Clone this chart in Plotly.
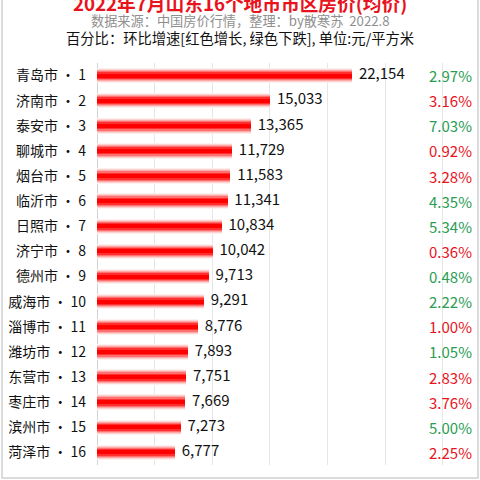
import plotly.graph_objects as go

cities = ['青岛市', '济南市', '泰安市', '聊城市', '烟台市', '临沂市', '日照市', '济宁市',
          '德州市', '威海市', '淄博市', '潍坊市', '东营市', '枣庄市', '滨州市', '菏泽市']
prices = [22154, 15033, 13365, 11729, 11583, 11341, 10834, 10042,
          9713, 9291, 8776, 7893, 7751, 7669, 7273, 6777]
mom_pct = [2.97, 3.16, 7.03, 0.92, 3.28, 4.35, 5.34, 0.36,
           0.48, 2.22, 1.00, 1.05, 2.83, 3.76, 5.00, 2.25]
pct_color = ['g', 'r', 'g', 'r', 'r', 'g', 'g', 'r',
             'g', 'g', 'r', 'g', 'r', 'r', 'g', 'r']

labels = [f'{c} · {i + 1}' for i, c in enumerate(cities)]

RED = '#e8131d'
GREEN = '#2a9d52'
FONT = 'Noto Sans CJK SC'

W, H = 480, 480
# plot area in pixels (left, right, top, bottom)
PL, PR, PT, PB = 97, 478, 63, 465


def px_x(p):
    return p / W


def px_y(p):
    return 1 - p / H


fig = go.Figure()

# glossy bars: stacked layers, wide & pale to narrow & deep red
layers = [(0.62, '#fff0f0'), (0.54, '#ffd2d2'), (0.46, '#ffa8a8'),
          (0.38, '#ff7070'), (0.28, '#ff3030'), (0.16, '#ff0000')]
for w, col in layers:
    fig.add_trace(go.Bar(x=prices, y=labels, orientation='h', width=w,
                         marker=dict(color=col, line=dict(width=0)),
                         hoverinfo='skip', showlegend=False))

fig.add_trace(go.Scatter(x=prices, y=labels, mode='text',
                         text=['  ' + f'{p:,}' for p in prices],
                         textposition='middle right',
                         textfont=dict(size=15, color='#111111', family=FONT),
                         showlegend=False, cliponaxis=False))

for lab, p, c in zip(labels, mom_pct, pct_color):
    fig.add_annotation(x=px_x(474), y=lab, xref='paper', yref='y',
                       text=f'{p:.2f}%', showarrow=False, xanchor='right', yanchor='middle',
                       font=dict(size=15, color=GREEN if c == 'g' else RED, family=FONT))

fig.add_annotation(x=0.5, y=px_y(3), xref='paper', yref='paper',
                   xanchor='center', yanchor='middle', showarrow=False,
                   text='<b>2022年7月山东16个地市市区房价(均价)</b>',
                   font=dict(size=18.7, color=RED, family=FONT))
fig.add_annotation(x=0.5, y=px_y(21), xref='paper', yref='paper',
                   xanchor='center', yanchor='middle', showarrow=False,
                   text='数据来源：中国房价行情，整理：by散寒苏  2022.8',
                   font=dict(size=13.2, color='#8f8f8f', family=FONT))
fig.add_annotation(x=0.5, y=px_y(38), xref='paper', yref='paper',
                   xanchor='center', yanchor='middle', showarrow=False,
                   text='百分比：环比增速[红色增长, 绿色下跌], 单位:元/平方米',
                   font=dict(size=14.3, color='#111111', family=FONT))

# outer frame
fig.add_shape(type='rect', xref='paper', yref='paper',
              x0=px_x(2), x1=px_x(478), y0=px_y(478), y1=px_y(-10),
              line=dict(color='#cfcfcf', width=1.5))

fig.update_layout(
    width=W, height=H, margin=dict(l=0, r=0, t=0, b=0, autoexpand=False),
    paper_bgcolor='white', plot_bgcolor='white',
    barmode='overlay', bargap=0,
    font=dict(family=FONT),
    xaxis=dict(domain=[px_x(PL), px_x(PR)],
               range=[0, (PR - PL) / 0.01152], dtick=5000, showticklabels=False,
               showgrid=True, gridcolor='#e6e6e6', gridwidth=1,
               zeroline=True, zerolinecolor='#d0d0d0', zerolinewidth=1,
               fixedrange=True),
    yaxis=dict(domain=[px_y(PB), px_y(PT)],
               range=[len(labels) - 0.5, -0.5], showgrid=False, ticks='',
               ticklabelstandoff=10, automargin=False,
               tickfont=dict(size=14, color='#111111', family=FONT),
               fixedrange=True),
)

# page body has a default margin; drop it so the figure sits at the window corner
fig.write_html('out.html', config={'displayModeBar': False},
               post_script="document.body.style.margin='0';document.body.style.overflow='hidden';")
